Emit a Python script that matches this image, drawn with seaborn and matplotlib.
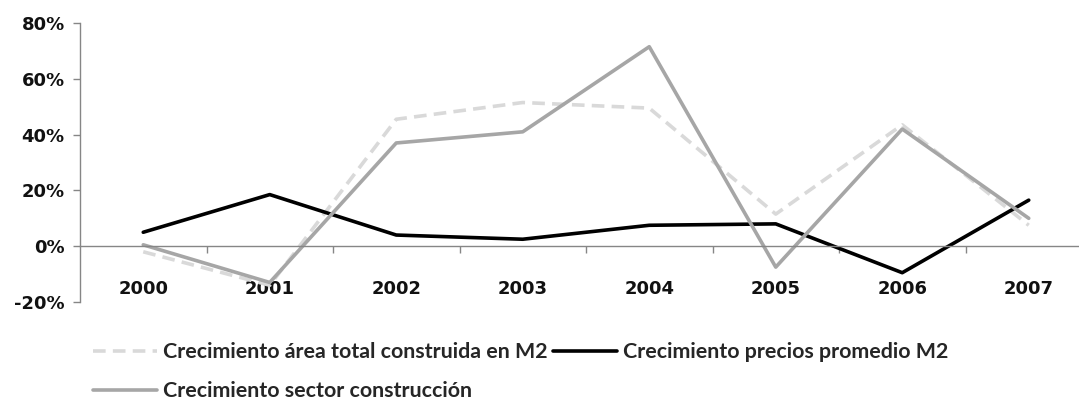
import matplotlib as mpl
mpl.use('Agg')

import matplotlib.pyplot as plt
from matplotlib.ticker import FuncFormatter, FixedLocator
import seaborn as sns
import pandas as pd
import numpy as np

sns.set_theme(style="white")
plt.rcParams['font.family'] = ['Lato', 'DejaVu Sans']

years = ["2000", "2001", "2002", "2003", "2004", "2005", "2006", "2007"]
area = [-2.0, -14.0, 45.5, 51.5, 49.5, 11.5, 43.5, 7.5]       # area total construida
precios = [5.0, 18.5, 4.0, 2.5, 7.5, 8.0, -9.5, 16.5]          # precios promedio M2
sector = [0.5, -13.0, 37.0, 41.0, 71.5, -7.5, 42.0, 10.0]      # sector construccion

names = ["Crecimiento área total construida en M2",
         "Crecimiento precios promedio M2",
         "Crecimiento sector construcción"]

pos = np.arange(len(years))
df = pd.DataFrame({"pos": pos, "area": area, "precios": precios, "sector": sector})

fig = plt.figure(figsize=(10.79, 4.03), dpi=100)
ax = fig.add_axes([80 / 1079, 1 - 302 / 403, 1012 / 1079, 279 / 403])

sns.lineplot(data=df, x="pos", y="area", ax=ax, color="#d9d9d9", lw=2.6,
             linestyle=(0, (3.5, 2)), label=names[0])
sns.lineplot(data=df, x="pos", y="precios", ax=ax, color="black", lw=2.6, label=names[1])
sns.lineplot(data=df, x="pos", y="sector", ax=ax, color="#a6a6a6", lw=2.6, label=names[2])

ax.set_xlim(-0.5, len(years) - 0.5)
ax.set_ylim(-20, 80)
ax.set_xlabel("")
ax.set_ylabel("")

for s in ["top", "right"]:
    ax.spines[s].set_visible(False)
ax.spines["bottom"].set_position(("data", 0))
ax.spines["bottom"].set_color("#868686")
ax.spines["left"].set_color("#868686")
ax.spines["bottom"].set_linewidth(1)
ax.spines["left"].set_linewidth(1)

ax.set_xticks(pos)
ax.set_xticklabels(years)
ax.xaxis.set_minor_locator(FixedLocator(np.arange(0.5, len(years) - 0.5, 1)))
ax.tick_params(axis="x", which="major", length=0, pad=24)
ax.tick_params(axis="x", which="minor", bottom=True, length=5, width=1,
               color="#868686", direction="out")
ax.set_yticks([-20, 0, 20, 40, 60, 80])
ax.yaxis.set_major_formatter(FuncFormatter(lambda v, p: f"{v:.0f}%"))
ax.tick_params(axis="y", left=True, length=5, width=1, color="#868686", pad=6)
for lab in ax.get_xticklabels() + ax.get_yticklabels():
    lab.set_fontfamily("DejaVu Sans")
    lab.set_fontweight("bold")
    lab.set_fontsize(13)
    lab.set_color("#111111")

handles, labels = ax.get_legend_handles_labels()
ax.get_legend().remove()
order = [0, 2, 1]
fig.legend([handles[i] for i in order], [labels[i] for i in order],
           loc="upper left", bbox_to_anchor=(93 / 1079, 1 - 342 / 403), ncol=2,
           frameon=False, handlelength=3.0, handletextpad=0.28, columnspacing=0.25,
           labelspacing=0.9, borderaxespad=0, borderpad=0,
           prop={"family": "Lato", "weight": "bold", "size": 15.4})

fig.savefig("out.png", dpi=100)
